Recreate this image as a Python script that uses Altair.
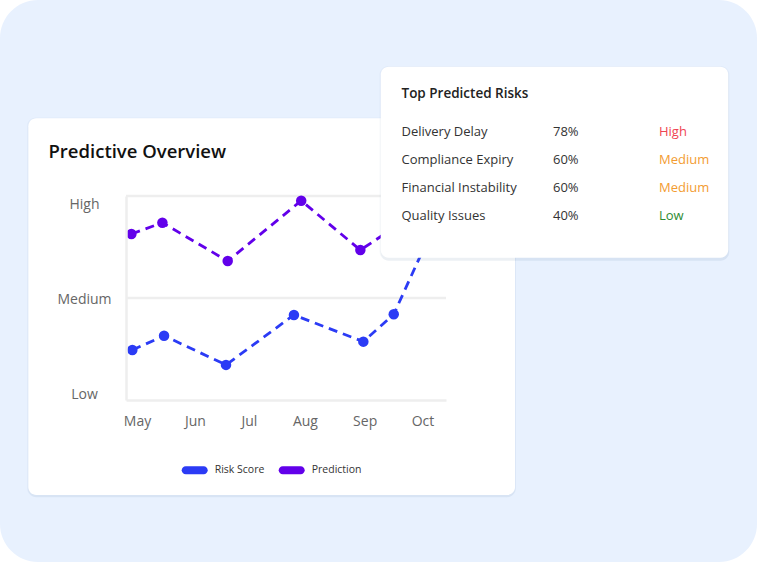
import altair as alt
import pandas as pd

# ---------------- data ----------------
months = ["May", "Jun", "Jul", "Aug", "Sep", "Oct"]
month_days = [0, 31, 60, 90, 122, 153]          # label positions, day offset from 1 May

risk_days = [-2.5, 14.5, 47.7, 84.1, 121.3, 137.6, 158]
risk_vals = [24.5, 31.5, 17.2, 41.7, 28.6, 42.0, 83]
pred_days = [-3.0, 13.6, 48.6, 88.0, 119.7, 137, 156]
pred_vals = [81.4, 86.9, 68.1, 97.7, 73.5, 84, 92]

series_names = ["Risk Score", "Prediction"]
series_colors = ["#2B3BF5", "#6200EA"]

level_labels = ["Low", "Medium", "High"]
level_label_vals = [2.5, 49.5, 96]
grid_vals = [50, 100]

risk_names = ["Delivery Delay", "Compliance Expiry", "Financial Instability", "Quality Issues"]
risk_pcts = ["78%", "60%", "60%", "40%"]
risk_levels = ["High", "Medium", "Medium", "Low"]
level_names = ["High", "Medium", "Low"]
level_colors = ["#EF4452", "#F39C31", "#2E8B32"]

chart_title = "Predictive Overview"
table_title = "Top Predicted Risks"

FONT = "Open Sans"

# ---------------- tables ----------------
df = pd.DataFrame({
    "day": risk_days + pred_days,
    "value": risk_vals + pred_vals,
    "series": [series_names[0]] * len(risk_days) + [series_names[1]] * len(pred_days),
})
df_grid = pd.DataFrame({"g": grid_vals})
df_rows = pd.DataFrame({
    "i": list(range(len(risk_names))),
    "name": risk_names,
    "pct": risk_pcts,
    "level": risk_levels,
})

W, H = 320, 204
PL, PT = 126, 196

xscale = alt.Scale(domain=[-5.9, 165.6], nice=False, zero=False)
yscale = alt.Scale(domain=[0, 100], nice=False)
cscale = alt.Scale(domain=series_names, range=series_colors)

x_expr = " : ".join(f"datum.value == {d} ? '{m}'" for d, m in zip(month_days, months)) + " : ''"
y_expr = " : ".join(f"datum.value == {v} ? '{l}'" for v, l in zip(level_label_vals, level_labels)) + " : ''"

def rect(x, x2, y, y2, fill, opacity=1.0, r=8):
    return alt.Chart(pd.DataFrame({"a": [0]})).mark_rect(
        fill=fill, opacity=opacity, cornerRadius=r
    ).encode(x=alt.value(x - PL), x2=alt.value(x2 - PL), y=alt.value(y - PT), y2=alt.value(y2 - PT))

bg = rect(0, 757, 0, 562, "#E8F1FE", r=38)
c1_sh1 = rect(27, 516, 117.5, 497, "#5070A0", 0.05, r=9)
c1_sh2 = rect(28, 515.5, 119, 497.5, "#5070A0", 0.05, r=9)
card1 = rect(28.3, 515, 118.3, 495, "white")
c2_sh1 = rect(379.5, 729.5, 66, 260.5, "#5070A0", 0.05, r=9)
c2_sh2 = rect(380.5, 729, 67.5, 261, "#5070A0", 0.06, r=9)
card2 = rect(380.7, 728.3, 66.7, 257.7, "white")

grid = alt.Chart(df_grid).mark_rule(color="#EEEEEE", strokeWidth=2.5).encode(
    y=alt.Y("g:Q", scale=yscale)
)

base = alt.Chart(df).encode(
    x=alt.X("day:Q", scale=xscale, title=None,
            axis=alt.Axis(values=month_days, labelExpr=x_expr, grid=False, ticks=False,
                          domainColor="#EEEEEE", domainWidth=2.5, labelFont=FONT,
                          labelFontSize=14, labelColor="#666666", labelPadding=14,
                          labelFlush=False, labelOverlap=False, zindex=1)),
    y=alt.Y("value:Q", scale=yscale, title=None,
            axis=alt.Axis(values=level_label_vals, labelExpr=y_expr, grid=False, ticks=False,
                          domainColor="#EEEEEE", domainWidth=2.5, labelFont=FONT,
                          labelFontSize=14, labelColor="#666666", labelAlign="center",
                          labelBaseline="middle", labelPadding=42, labelFlush=False,
                          labelOverlap=False, zindex=1)),
)

lines = base.mark_line(strokeDash=[9, 6], strokeWidth=2.8).encode(
    color=alt.Color("series:N", scale=cscale, legend=None),
    detail="series:N",
)

pill = "M-0.69,-0.31 L0.69,-0.31 A0.31,0.31 0 0 1 0.69,0.31 L-0.69,0.31 A0.31,0.31 0 0 1 -0.69,-0.31 Z"
points = base.mark_circle(size=110, opacity=1).encode(
    color=alt.Color("series:N", scale=cscale,
                    legend=alt.Legend(orient="none", legendX=55.7, legendY=261,
                                      direction="horizontal", title=None,
                                      symbolType=pill, symbolSize=676, symbolStrokeWidth=0,
                                      symbolOpacity=1, labelFont=FONT, labelFontSize=10.5,
                                      labelColor="#333333", labelOffset=7, columnPadding=14)),
)

def label(txt, x, y, size, weight="normal", color="#333333", baseline="middle"):
    return alt.Chart(pd.DataFrame({"t": [txt]})).mark_text(
        align="left", baseline=baseline, font=FONT, fontSize=size, fontWeight=weight, color=color
    ).encode(text="t:N", x=alt.value(x - PL), y=alt.value(y - PT))

title1 = label(chart_title, 48.5, 151.5, 18.5, weight=600, color="#111111")
title2 = label(table_title, 401.5, 93.5, 13.5, weight=600, color="#222222")

rows_base = alt.Chart(df_rows).transform_calculate(
    ty=f"{132 - PT} + 28 * datum.i"
).mark_text(align="left", baseline="middle", font=FONT, fontSize=13, color="#333333")

names_t = rows_base.encode(text="name:N", x=alt.value(401.5 - PL), y=alt.Y("ty:Q", scale=None))
pcts_t = rows_base.encode(text="pct:N", x=alt.value(553 - PL), y=alt.Y("ty:Q", scale=None))
levels_t = rows_base.encode(
    text="level:N", x=alt.value(659 - PL), y=alt.Y("ty:Q", scale=None),
    color=alt.Color("level:N", scale=alt.Scale(domain=level_names, range=level_colors), legend=None),
)

chart = alt.layer(
    bg, c1_sh1, c1_sh2, card1, grid, lines, points,
    c2_sh1, c2_sh2, card2, title1, title2, names_t, pcts_t, levels_t
).resolve_scale(color="independent").properties(
    width=W, height=H,
    autosize=alt.AutoSizeParams(type="none"),
    padding={"left": PL, "top": PT, "right": 757 - PL - W, "bottom": 562 - PT - H},
    background="white",
).configure_view(stroke=None)

chart.save("out.html", embed_options={"renderer": "svg", "actions": False})
